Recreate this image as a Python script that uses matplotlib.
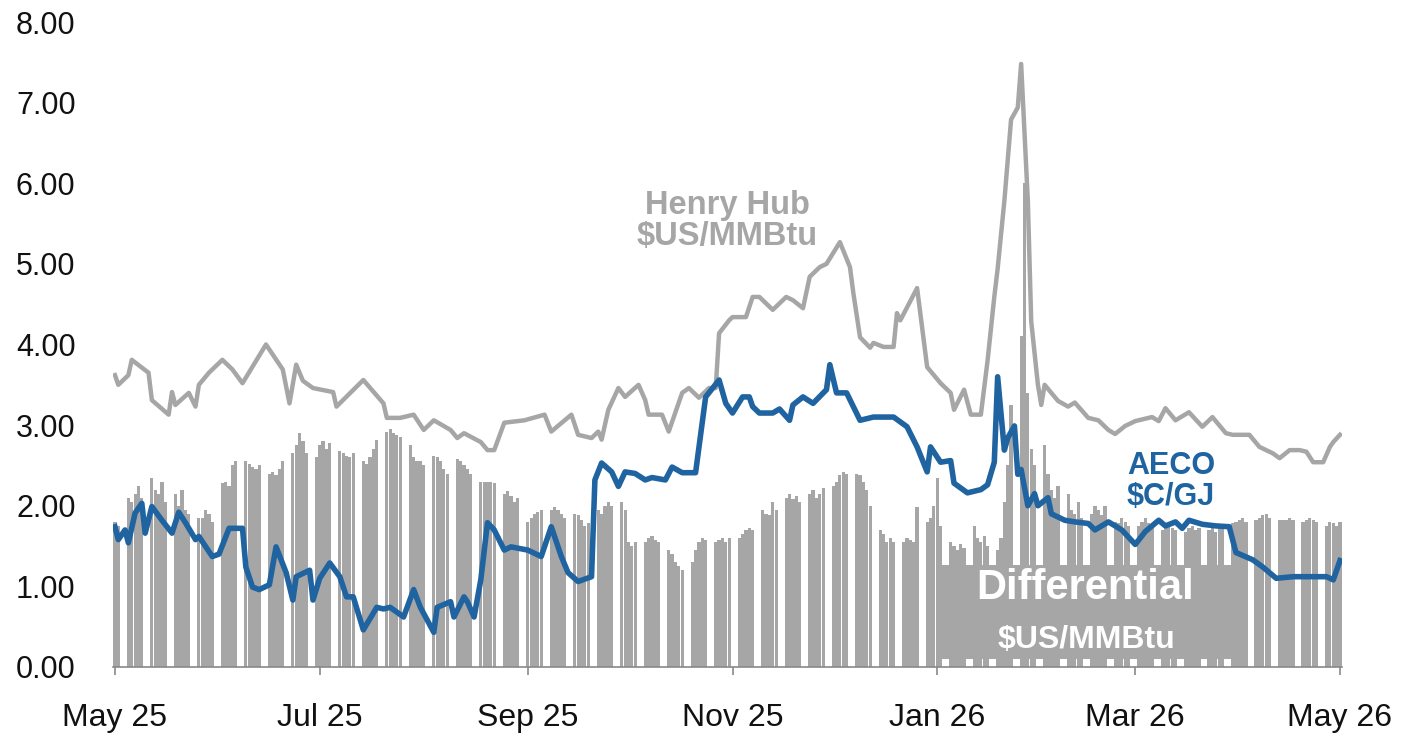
import matplotlib
matplotlib.use("Agg")
import matplotlib.pyplot as plt
import matplotlib.dates as mdates
from matplotlib.patches import Rectangle
from matplotlib.ticker import FormatStrFormatter
import pandas as pd

plt.rcParams["font.family"] = ["Liberation Sans", "DejaVu Sans"]

GRAY = "#a6a6a6"
BLUE = "#1f64a0"

# Henry Hub, $US/MMBtu
hh_dates = [
    "2025-05-01", "2025-05-02", "2025-05-05", "2025-05-06", "2025-05-11", "2025-05-12", "2025-05-17",
    "2025-05-18", "2025-05-19", "2025-05-23", "2025-05-25", "2025-05-26", "2025-05-29", "2025-06-02",
    "2025-06-05", "2025-06-08", "2025-06-15", "2025-06-20", "2025-06-22", "2025-06-24", "2025-06-26",
    "2025-06-29", "2025-07-05", "2025-07-06", "2025-07-14", "2025-07-20", "2025-07-21", "2025-07-25",
    "2025-07-29", "2025-08-01", "2025-08-04", "2025-08-09", "2025-08-11", "2025-08-13", "2025-08-18",
    "2025-08-20", "2025-08-22", "2025-08-25", "2025-08-31", "2025-09-06", "2025-09-08", "2025-09-14",
    "2025-09-16", "2025-09-20", "2025-09-22", "2025-09-23", "2025-09-25", "2025-09-28", "2025-09-30",
    "2025-10-04", "2025-10-06", "2025-10-07", "2025-10-11", "2025-10-13", "2025-10-17", "2025-10-19",
    "2025-10-22", "2025-10-25", "2025-10-27", "2025-10-28", "2025-10-31", "2025-11-01", "2025-11-05",
    "2025-11-07", "2025-11-09", "2025-11-13", "2025-11-17", "2025-11-19", "2025-11-22", "2025-11-24",
    "2025-11-27", "2025-11-29", "2025-12-03", "2025-12-06", "2025-12-07", "2025-12-09", "2025-12-12",
    "2025-12-13", "2025-12-16", "2025-12-19", "2025-12-20", "2025-12-21", "2025-12-26", "2025-12-29",
    "2026-01-02", "2026-01-05", "2026-01-06", "2026-01-09", "2026-01-11", "2026-01-14", "2026-01-16",
    "2026-01-18", "2026-01-19", "2026-01-21", "2026-01-23", "2026-01-25", "2026-01-26", "2026-01-28",
    "2026-01-29", "2026-01-31", "2026-02-01", "2026-02-02", "2026-02-06", "2026-02-09", "2026-02-11",
    "2026-02-15", "2026-02-18", "2026-02-21", "2026-02-23", "2026-02-26", "2026-03-01", "2026-03-06",
    "2026-03-08", "2026-03-10", "2026-03-13", "2026-03-17", "2026-03-21", "2026-03-24", "2026-03-28",
    "2026-03-30", "2026-04-04", "2026-04-07", "2026-04-11", "2026-04-13", "2026-04-16", "2026-04-19",
    "2026-04-21", "2026-04-23", "2026-04-26", "2026-04-28", "2026-04-29", "2026-05-01",
]
hh_vals = [
    3.62, 3.50, 3.62, 3.81, 3.65, 3.31, 3.13, 3.41, 3.25, 3.40, 3.23, 3.50, 3.65, 3.81,
    3.69, 3.52, 4.00, 3.69, 3.27, 3.75, 3.55, 3.46, 3.41, 3.23, 3.56, 3.27, 3.09, 3.09,
    3.13, 2.94, 3.06, 2.94, 2.84, 2.90, 2.79, 2.69, 2.69, 3.03, 3.06, 3.13, 2.92, 3.13,
    2.88, 2.84, 2.92, 2.82, 3.19, 3.46, 3.35, 3.50, 3.31, 3.13, 3.13, 2.92, 3.40, 3.46,
    3.34, 3.46, 3.46, 4.14, 4.30, 4.34, 4.34, 4.59, 4.59, 4.43, 4.59, 4.55, 4.45, 4.84,
    4.96, 5.00, 5.27, 4.96, 4.64, 4.09, 3.96, 4.02, 3.97, 3.97, 4.39, 4.30, 4.70, 3.72,
    3.52, 3.40, 3.19, 3.44, 3.13, 3.13, 3.80, 4.59, 4.94, 5.78, 6.79, 6.94, 7.48, 5.78,
    4.29, 3.50, 3.25, 3.50, 3.30, 3.23, 3.28, 3.09, 3.06, 2.94, 2.89, 2.99, 3.05, 3.10,
    3.05, 3.21, 3.06, 3.16, 2.98, 3.10, 2.90, 2.88, 2.88, 2.73, 2.65, 2.59, 2.69, 2.69,
    2.67, 2.54, 2.54, 2.73, 2.79, 2.88,
]

# AECO, $C/GJ
aeco_dates = [
    "2025-05-01", "2025-05-02", "2025-05-04", "2025-05-05", "2025-05-07", "2025-05-09", "2025-05-10",
    "2025-05-12", "2025-05-15", "2025-05-18", "2025-05-20", "2025-05-22", "2025-05-25", "2025-05-26",
    "2025-05-30", "2025-06-01", "2025-06-04", "2025-06-08", "2025-06-09", "2025-06-11", "2025-06-13",
    "2025-06-16", "2025-06-18", "2025-06-21", "2025-06-23", "2025-06-24", "2025-06-28", "2025-06-29",
    "2025-07-01", "2025-07-04", "2025-07-07", "2025-07-09", "2025-07-11", "2025-07-14", "2025-07-18",
    "2025-07-20", "2025-07-22", "2025-07-26", "2025-07-29", "2025-07-31", "2025-08-04", "2025-08-05",
    "2025-08-09", "2025-08-10", "2025-08-13", "2025-08-14", "2025-08-16", "2025-08-18", "2025-08-20",
    "2025-08-22", "2025-08-25", "2025-08-27", "2025-09-01", "2025-09-05", "2025-09-08", "2025-09-11",
    "2025-09-13", "2025-09-16", "2025-09-20", "2025-09-21", "2025-09-23", "2025-09-26", "2025-09-28",
    "2025-09-30", "2025-10-03", "2025-10-06", "2025-10-08", "2025-10-12", "2025-10-14", "2025-10-17",
    "2025-10-21", "2025-10-24", "2025-10-28", "2025-10-30", "2025-11-01", "2025-11-04", "2025-11-06",
    "2025-11-07", "2025-11-09", "2025-11-13", "2025-11-15", "2025-11-18", "2025-11-19", "2025-11-22",
    "2025-11-25", "2025-11-29", "2025-11-30", "2025-12-02", "2025-12-05", "2025-12-09", "2025-12-13",
    "2025-12-19", "2025-12-23", "2025-12-26", "2025-12-29", "2025-12-30", "2026-01-02", "2026-01-05",
    "2026-01-06", "2026-01-10", "2026-01-14", "2026-01-16", "2026-01-18", "2026-01-19", "2026-01-21",
    "2026-01-22", "2026-01-24", "2026-01-25", "2026-01-26", "2026-01-28", "2026-01-30", "2026-01-31",
    "2026-02-03", "2026-02-04", "2026-02-08", "2026-02-11", "2026-02-15", "2026-02-17", "2026-02-21",
    "2026-02-25", "2026-03-01", "2026-03-04", "2026-03-08", "2026-03-10", "2026-03-13", "2026-03-15",
    "2026-03-17", "2026-03-21", "2026-03-25", "2026-03-29", "2026-03-31", "2026-04-05", "2026-04-08",
    "2026-04-12", "2026-04-17", "2026-04-23", "2026-04-27", "2026-04-29", "2026-05-01",
]
aeco_vals = [
    1.74, 1.58, 1.70, 1.54, 1.91, 2.03, 1.66, 1.99, 1.82, 1.66, 1.92, 1.79, 1.58, 1.62,
    1.37, 1.40, 1.72, 1.72, 1.24, 0.99, 0.96, 1.02, 1.49, 1.17, 0.83, 1.12, 1.20, 0.83,
    1.10, 1.29, 1.12, 0.87, 0.87, 0.46, 0.74, 0.72, 0.74, 0.62, 0.96, 0.74, 0.43, 0.74,
    0.81, 0.62, 0.87, 0.81, 0.62, 1.08, 1.79, 1.70, 1.45, 1.49, 1.45, 1.37, 1.74, 1.37,
    1.17, 1.06, 1.12, 2.32, 2.53, 2.42, 2.24, 2.42, 2.40, 2.32, 2.35, 2.32, 2.48, 2.41,
    2.41, 3.35, 3.56, 3.27, 3.15, 3.35, 3.35, 3.23, 3.15, 3.15, 3.20, 3.06, 3.25, 3.35,
    3.27, 3.44, 3.75, 3.40, 3.40, 3.06, 3.10, 3.10, 2.98, 2.73, 2.42, 2.73, 2.54, 2.56,
    2.28, 2.16, 2.20, 2.26, 2.54, 3.60, 2.69, 2.84, 2.99, 2.39, 2.45, 2.00, 2.15, 2.00,
    2.10, 1.90, 1.82, 1.80, 1.78, 1.70, 1.80, 1.70, 1.52, 1.68, 1.82, 1.75, 1.80, 1.72,
    1.82, 1.77, 1.75, 1.74, 1.42, 1.33, 1.24, 1.10, 1.12, 1.12, 1.12, 1.08, 1.32,
]

# Differential, $US/MMBtu, one bar per trading day (May 1 2025 - May 1 2026)
diff_vals = [
    1.80, 1.75,
    2.10, 2.05, 2.15, 2.25, 2.10,
    2.35, 2.20, 2.15, 2.30, 2.05,
    2.15, 2.00, 2.20, 1.95, 1.90,
    1.85, 1.85, 1.95, 1.90, 1.80,
    2.28, 2.30, 2.25, 2.50, 2.55,
    2.55, 2.52, 2.48, 2.45, 2.50,
    2.40, 2.42, 2.38, 2.45, 2.55,
    2.65, 2.75, 2.90, 2.80, 2.65,
    2.60, 2.75, 2.80, 2.70, 2.78,
    2.68, 2.65, 2.62, 2.60, 2.65,
    2.55, 2.52, 2.60, 2.70, 2.82,
    2.92, 2.95, 2.90, 2.88, 2.85,
    2.75, 2.60, 2.55, 2.55, 2.50,
    2.62, 2.60, 2.55, 2.45, 2.40,
    2.58, 2.55, 2.50, 2.45, 2.40,
    2.30, 2.30, 2.30, 2.30, 2.28,
    2.15, 2.18, 2.12, 2.05, 2.10,
    1.80, 1.85, 1.90, 1.92, 1.95,
    1.95, 1.98, 1.95, 1.90, 1.85,
    1.90, 1.88, 1.82, 1.75, 1.78,
    1.95, 1.90, 2.00, 2.05, 2.00,
    2.05, 1.95, 1.55, 1.50, 1.55,
    1.55, 1.60, 1.62, 1.58, 1.55,
    1.45, 1.40, 1.30, 1.25, 1.20,
    1.30, 1.45, 1.55, 1.60, 1.58,
    1.55, 1.58, 1.60, 1.55, 1.60,
    1.60, 1.65, 1.70, 1.72, 1.70,
    1.95, 1.90, 1.88, 2.05, 1.95,
    2.10, 2.15, 2.08, 2.12, 2.05,
    2.15, 2.20, 2.10, 2.15, 2.22,
    2.25, 2.30, 2.38, 2.42, 2.40,
    2.40, 2.38, 2.30, 2.20, 2.00,
    1.70, 1.65, 1.55, 1.60, 1.55,
    1.55, 1.60, 1.58, 1.55, 1.98,
    1.80, 1.85, 2.00, 2.35, 1.75,
    1.55, 1.50, 1.45, 1.52, 1.48,
    1.75, 1.60, 1.55, 1.62, 1.50,
    1.45, 1.60, 2.05, 2.50, 3.25,
    4.10, 6.00, 3.40, 2.70, 2.50,
    2.75, 2.40, 2.20, 2.10, 2.25,
    2.15, 1.95, 1.90, 2.05, 1.85,
    1.90, 2.00, 1.95, 1.88, 2.00,
    1.80, 1.78, 1.85, 1.80, 1.75,
    1.75, 1.80, 1.85, 1.78, 1.72,
    1.70, 1.75, 1.78, 1.72, 1.70,
    1.68, 1.72, 1.75, 1.70, 1.72,
    1.70, 1.72, 1.68, 1.75, 1.72,
    1.78, 1.80, 1.82, 1.85, 1.80,
    1.82, 1.85, 1.88, 1.90, 1.85,
    1.82, 1.82, 1.82, 1.85, 1.82,
    1.80, 1.82, 1.85, 1.82, 1.80,
    1.75, 1.80, 1.78, 1.75, 1.80,
]
bar_days = pd.bdate_range("2025-05-01", "2026-05-01")

fig = plt.figure(figsize=(14.09, 7.37), dpi=100)
ax = fig.add_axes([0.0802, 0.0950, 0.8722, 0.8751])

ax.bar(bar_days, diff_vals, width=0.95, color=GRAY, linewidth=0, zorder=2)
ax.plot(pd.to_datetime(hh_dates), hh_vals, color=GRAY, lw=3.2, zorder=4,
        solid_joinstyle="round")
ax.plot(pd.to_datetime(aeco_dates), aeco_vals, color=BLUE, lw=4.0, zorder=5,
        solid_joinstyle="round")

# grey label box sitting on the bars
ax.add_patch(Rectangle((0.671, 0.013), 0.246, 0.145, transform=ax.transAxes,
                       facecolor=GRAY, edgecolor="none", zorder=3))
ax.text(0.791, 0.122, "Differential", transform=ax.transAxes, ha="center", va="center",
        color="white", fontsize=30, fontweight="bold", zorder=4)
ax.text(0.792, 0.042, "\\$US/MMBtu", transform=ax.transAxes, ha="center", va="center",
        color="white", fontsize=23, fontweight="bold", zorder=4)

ax.text(0.4996, 0.691, "Henry Hub\n\\$US/MMBtu", transform=ax.transAxes, ha="center",
        va="center", color=GRAY, fontsize=23.5, fontweight="bold", linespacing=1.0)
ax.text(0.861, 0.288, "AECO\n\\$C/GJ", transform=ax.transAxes, ha="center",
        va="center", color=BLUE, fontsize=22, fontweight="bold", linespacing=1.05)

ax.set_ylim(0, 8)
ax.set_xlim(pd.Timestamp("2025-05-01") - pd.Timedelta(hours=14),
            pd.Timestamp("2026-05-01") + pd.Timedelta(hours=14))
ax.set_yticks(range(0, 9))
ax.yaxis.set_major_formatter(FormatStrFormatter("%.2f"))
ax.xaxis.set_major_locator(mdates.MonthLocator(bymonth=[1, 3, 5, 7, 9, 11]))
ax.xaxis.set_major_formatter(mdates.DateFormatter("%b %y"))

for side in ("top", "right", "left"):
    ax.spines[side].set_visible(False)
ax.spines["bottom"].set_color("#898989")
ax.spines["bottom"].set_linewidth(1.2)
ax.tick_params(axis="x", direction="out", length=6, width=1.2, color="#898989",
               labelsize=23, pad=20, labelcolor="#111111")
ax.tick_params(axis="y", length=0, labelsize=22, pad=27, labelcolor="#111111")

fig.savefig("out.png", dpi=100)
